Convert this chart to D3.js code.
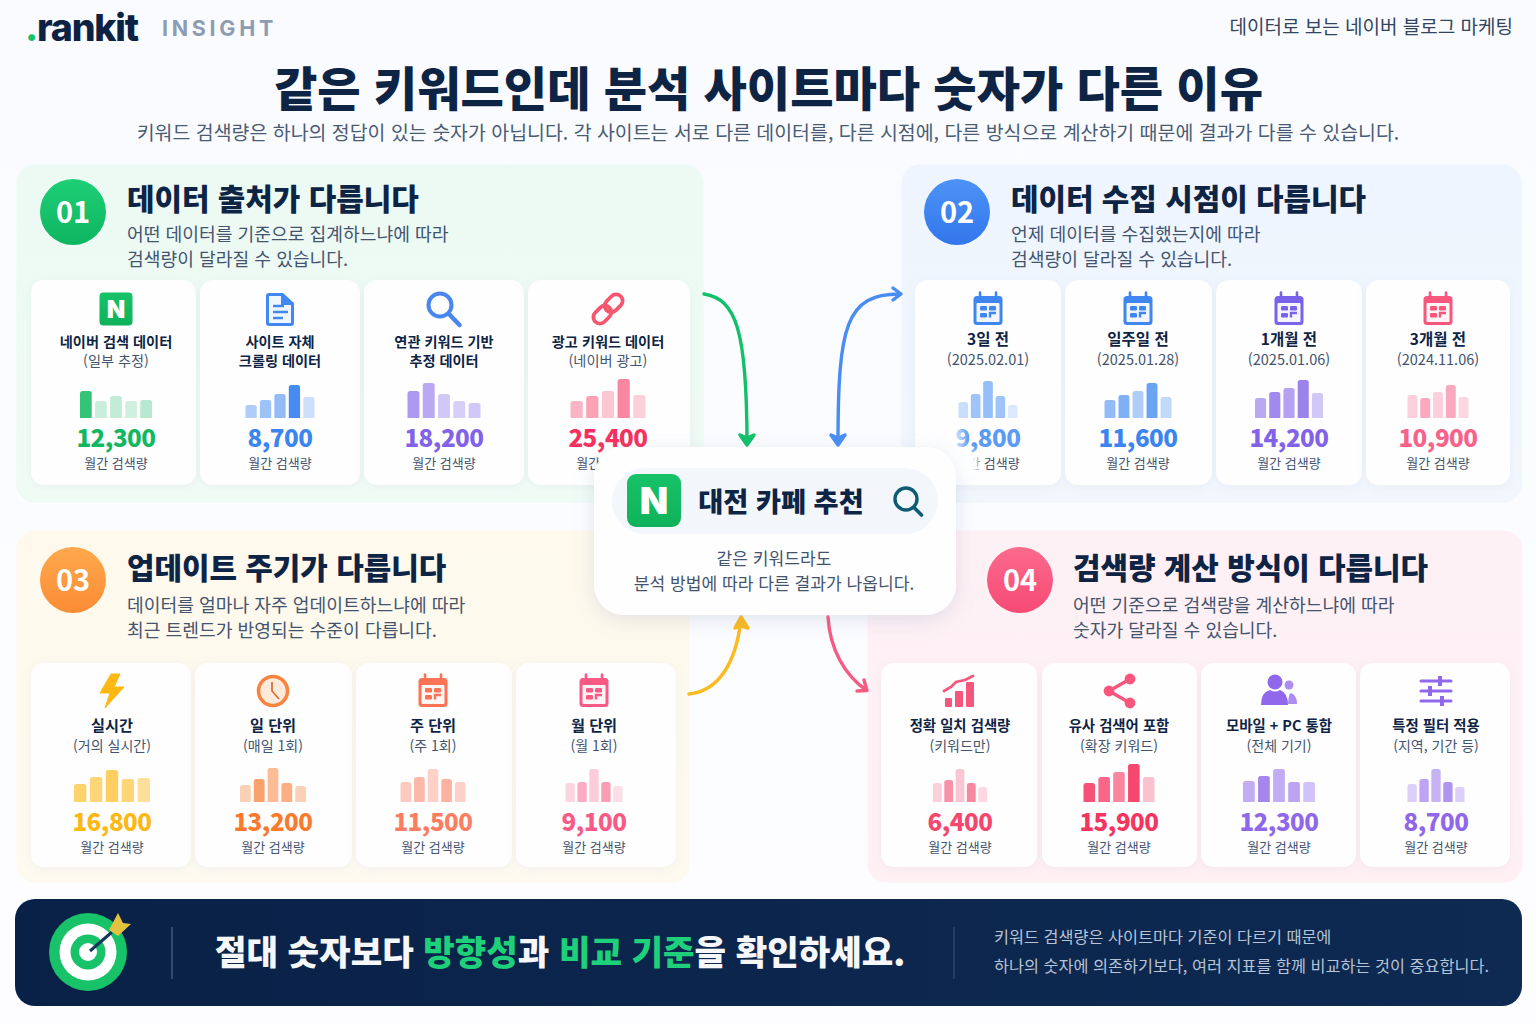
<!DOCTYPE html>
<html lang="ko">
<head>
<meta charset="utf-8">
<title>같은 키워드인데 분석 사이트마다 숫자가 다른 이유</title>
<script src="https://cdn.jsdelivr.net/npm/d3@7"></script>
<style>
  html, body { margin: 0; padding: 0; background: #fbfcfe; }
  svg { display: block; }
  text { font-family: "Noto Sans CJK KR", "Noto Sans", sans-serif; }
</style>
</head>
<body>
<div id="chart"></div>
<script>
// ---- data ----
const sectionNumbers = ["01", "02", "03", "04"];
const sectionTitles = ["데이터 출처가 다릅니다", "데이터 수집 시점이 다릅니다", "업데이트 주기가 다릅니다", "검색량 계산 방식이 다릅니다"];
const sectionNotes = [
  ["어떤 데이터를 기준으로 집계하느냐에 따라", "검색량이 달라질 수 있습니다."],
  ["언제 데이터를 수집했는지에 따라", "검색량이 달라질 수 있습니다."],
  ["데이터를 얼마나 자주 업데이트하느냐에 따라", "최근 트렌드가 반영되는 수준이 다릅니다."],
  ["어떤 기준으로 검색량을 계산하느냐에 따라", "숫자가 달라질 수 있습니다."]
];
const cardTitles = [
  ["네이버 검색 데이터", "사이트 자체", "연관 키워드 기반", "광고 키워드 데이터"],
  ["3일 전", "일주일 전", "1개월 전", "3개월 전"],
  ["실시간", "일 단위", "주 단위", "월 단위"],
  ["정확 일치 검색량", "유사 검색어 포함", "모바일 + PC 통합", "특정 필터 적용"]
];
const cardSubtitles = [
  ["(일부 추정)", "크롤링 데이터", "추정 데이터", "(네이버 광고)"],
  ["(2025.02.01)", "(2025.01.28)", "(2025.01.06)", "(2024.11.06)"],
  ["(거의 실시간)", "(매일 1회)", "(주 1회)", "(월 1회)"],
  ["(키워드만)", "(확장 키워드)", "(전체 기기)", "(지역, 기간 등)"]
];
const volumes = [
  [12300, 8700, 18200, 25400],
  [9800, 11600, 14200, 10900],
  [16800, 13200, 11500, 9100],
  [6400, 15900, 12300, 8700]
];
const miniBars = [
  [[27, 17, 22, 17, 18], [13, 18, 24, 33, 21], [27, 35, 24, 17, 15], [17, 22, 27, 39, 23]],
  [[16, 24, 37, 22, 13], [18, 23, 27, 35, 21], [20, 26, 30, 38, 25], [23, 20, 26, 33, 21]],
  [[18, 25, 32, 23, 24], [17, 23, 34, 19, 16], [20, 25, 33, 23, 20], [19, 20, 33, 20, 16]],
  [[19, 22, 33, 19, 15], [19, 25, 30, 38, 25], [21, 26, 33, 20, 20], [18, 23, 33, 20, 15]]
];
const volumeCaption = "월간 검색량";
const cardIcons = [
  ["naver", "doc", "search", "link"],
  ["calendar", "calendar", "calendar", "calendar"],
  ["bolt", "clock", "calendar", "calendar"],
  ["chart", "share", "users", "sliders"]
];

// ---- styles and layout ----
const NAVY = "#0e2445", GREY = "#43546e";
const panelFills = [["#ecfaf3", "#f1fbf6"], ["#eef5fe", "#f2f7fe"], ["#fef9ec", "#fefaf0"], ["#fef1f5", "#fff0f4"]];
const badgeFills = [["#1dcf76", "#0fb560"], ["#4d93f5", "#3276ec"], ["#ffa84d", "#fb8c34"], ["#fb6a8c", "#f64a75"]];
const cardColors = [
  ["#12b85f", "#3b85f0", "#8263e8", "#f7305e"],
  ["#5b9bf5", "#3b85f0", "#8263e8", "#f8628a"],
  ["#fdb813", "#f97a2e", "#fb7e62", "#f85a85"],
  ["#f5476e", "#f5345f", "#8f68ea", "#8f68ea"]
];
const iconColors = [
  ["#12b85f", "#4189f1", "#4a86ee", "#f7566f"],
  ["#3f86f0", "#3f86f0", "#7a62ea", "#f8567c"],
  ["#fdb813", "#f9843f", "#fb7257", "#f85a85"],
  ["#f7567c", "#f8567c", "#9068ec", "#9068ec"]
];
const barColors = [
  ["#12b85f", "#3b85f0", "#8263e8", "#f7466e"],
  ["#4f94f3", "#3b85f0", "#8263e8", "#f8628a"],
  ["#fdbb1c", "#f97a2e", "#fb7e62", "#f85a85"],
  ["#f5476e", "#f5345f", "#8f68ea", "#8f68ea"]
];
const barAlpha = [
  [[.85, .22, .25, .2, .3], [.4, .5, .55, .95, .25], [.65, .55, .35, .3, .35], [.4, .5, .3, .65, .25]],
  [[.3, .55, .6, .55, .2], [.55, .65, .4, .75, .3], [.55, .75, .6, .8, .35], [.3, .55, .3, .55, .25]],
  [[.65, .6, .7, .6, .45], [.35, .7, .5, .6, .35], [.4, .55, .35, .6, .35], [.25, .5, .3, .6, .2]],
  [[.25, .6, .3, .65, .2], [.85, .75, .6, .9, .3], [.55, .8, .55, .6, .4], [.3, .6, .5, .7, .3]]
];
const panels = [
  {x: 17, y: 165, w: 686, h: 337, badgeX: 73, textX: 127},
  {x: 902, y: 165, w: 619, h: 337, badgeX: 957, textX: 1011},
  {x: 17, y: 531, w: 672, h: 351, badgeX: 73, textX: 127},
  {x: 868, y: 531, w: 654, h: 351, badgeX: 1020, textX: 1073}
];
const cardEdges = [
  [[31, 196], [200, 360], [364, 524], [528, 690]],
  [[915, 1061], [1065, 1212], [1216, 1362], [1366, 1510]],
  [[31, 191], [195, 352], [356, 512], [516, 676]],
  [[881, 1037], [1042, 1197], [1201, 1356], [1360, 1510]]
];
const textCentres = [[116, 280, 444, 608], [988, 1138, 1289, 1438], [112, 273, 433, 594], [960, 1119, 1279, 1436]];
const barSpans = [[72, 69, 73, 75], [59, 67, 68, 61], [76, 66, 65, 57], [54, 71, 72, 57]];
const rows = [
  {top: 280, bottom: 485, icon: 309, title: 342, sub: 361, base: 418, value: 438, foot: 463, titleSize: 14.2, subSize: 14.2},
  {top: 280, bottom: 485, icon: 309, title: 340, sub: 360, base: 418, value: 438, foot: 463, titleSize: 15.5, subSize: 14.5},
  {top: 663, bottom: 867, icon: 691, title: 725.5, sub: 745.5, base: 802, value: 822, foot: 847, titleSize: 15.2, subSize: 14},
  {top: 663, bottom: 867, icon: 691, title: 725.5, sub: 745.5, base: 802, value: 822, foot: 847, titleSize: 14.4, subSize: 14}
];

const svg = d3.select("#chart").append("svg").attr("width", 1536).attr("height", 1024).attr("viewBox", "0 0 1536 1024");
const defs = svg.append("defs");

function vGradient(id, a, b, horizontal) {
  const gr = defs.append("linearGradient").attr("id", id)
    .attr("x1", 0).attr("y1", 0).attr("x2", horizontal ? 1 : 0).attr("y2", horizontal ? 0 : 1);
  gr.append("stop").attr("offset", "0%").attr("stop-color", a);
  gr.append("stop").attr("offset", "100%").attr("stop-color", b);
}
function shadow(id, dy, blur, colour, op) {
  const f = defs.append("filter").attr("id", id).attr("x", "-20%").attr("y", "-20%").attr("width", "140%").attr("height", "150%");
  f.append("feDropShadow").attr("dx", 0).attr("dy", dy).attr("stdDeviation", blur).attr("flood-color", colour).attr("flood-opacity", op);
}
shadow("cardShadow", 2, 5, "#8aa0bd", 0.10);
shadow("centreShadow", 5, 10, "#6f86a8", 0.20);
defs.append("filter").attr("id", "soften").attr("x", "-50%").attr("y", "-50%").attr("width", "200%").attr("height", "200%")
  .append("feGaussianBlur").attr("stdDeviation", 3);
vGradient("naverFill", "#17c268", "#0fb25a");
vGradient("bannerFill", "#0a2147", "#0e2a52", true);
vGradient("pageFill", "#f9fbfe", "#fdfdff");
panelFills.forEach((c, i) => vGradient("panel" + i, c[0], c[1]));
badgeFills.forEach((c, i) => vGradient("badge" + i, c[0], c[1]));

svg.append("rect").attr("width", 1536).attr("height", 1024).attr("fill", "url(#pageFill)");

// ---- header ----
const logo = svg.append("text").attr("x", 25).attr("y", 41).attr("font-size", 37.5).attr("font-weight", 800)
  .style("font-family", "Inter").attr("letter-spacing", -1.2).attr("fill", "#0c2244");
logo.append("tspan").attr("fill", "#17c268").text(".");
logo.append("tspan").text("rankit");
svg.append("text").attr("x", 162).attr("y", 36).attr("font-size", 21.5).attr("font-weight", 700)
  .style("font-family", "Inter").attr("letter-spacing", 3.7).attr("fill", "#8e9cb2").text("INSIGHT");
svg.append("text").attr("x", 1513).attr("y", 34).attr("text-anchor", "end").attr("font-size", 19)
  .attr("fill", "#33445f").text("데이터로 보는 네이버 블로그 마케팅");
svg.append("text").attr("x", 768.5).attr("y", 105.5).attr("text-anchor", "middle").attr("font-size", 47.1).attr("font-weight", 900)
  .attr("fill", NAVY).text("같은 키워드인데 분석 사이트마다 숫자가 다른 이유");
svg.append("text").attr("x", 768).attr("y", 140).attr("text-anchor", "middle").attr("font-size", 19.45)
  .attr("fill", "#4a5b74").text("키워드 검색량은 하나의 정답이 있는 숫자가 아닙니다. 각 사이트는 서로 다른 데이터를, 다른 시점에, 다른 방식으로 계산하기 때문에 결과가 다를 수 있습니다.");

// ---- icons ----
function drawIcon(g, kind, colour) {
  if (kind === "naver") {
    g.append("rect").attr("x", -16.5).attr("y", -16.5).attr("width", 33).attr("height", 33).attr("rx", 4).attr("fill", "url(#naverFill)");
    g.append("text").attr("text-anchor", "middle").attr("y", 8.5).attr("font-size", 24).attr("font-weight", 900)
      .style("font-family", "Inter").attr("fill", "#fff").text("N");
  } else if (kind === "doc") {
    g.append("path").attr("d", "M-14,-13 q0,-3 3,-3 h14 l11,10 v20 q0,3 -3,3 h-22 q-3,0 -3,-3 z").attr("fill", colour);
    g.append("path").attr("d", "M-11,-13 h12 v9 h10 v18 h-22 z").attr("fill", "#fff").attr("opacity", 0.92);
    g.append("path").attr("d", "M-7,-3 h11 M-7,3 h15 M-7,9 h10").attr("stroke", colour).attr("stroke-width", 2.4).attr("fill", "none");
  } else if (kind === "search") {
    g.append("circle").attr("cx", -4).attr("cy", -4).attr("r", 11.5).attr("fill", "none").attr("stroke", colour).attr("stroke-width", 4);
    g.append("line").attr("x1", 5).attr("y1", 5).attr("x2", 15.5).attr("y2", 16).attr("stroke", colour).attr("stroke-width", 4.5).attr("stroke-linecap", "round");
  } else if (kind === "link") {
    const r = g.append("g").attr("transform", "rotate(-45)");
    r.append("rect").attr("x", -18).attr("y", -6.5).attr("width", 20).attr("height", 13).attr("rx", 6.5).attr("fill", "none").attr("stroke", colour).attr("stroke-width", 3.8);
    r.append("rect").attr("x", -2).attr("y", -6.5).attr("width", 20).attr("height", 13).attr("rx", 6.5).attr("fill", "none").attr("stroke", colour).attr("stroke-width", 3.8);
  } else if (kind === "calendar") {
    g.append("rect").attr("x", -14.5).attr("y", -13).attr("width", 29).attr("height", 29).attr("rx", 3.5).attr("fill", colour);
    g.append("path").attr("d", "M-8,-13 v-3.5 M8,-13 v-3.5").attr("stroke", colour).attr("stroke-width", 2.6).attr("stroke-linecap", "round");
    g.append("rect").attr("x", -11.5).attr("y", -6).attr("width", 23).attr("height", 19).attr("rx", 1).attr("fill", "#fff").attr("opacity", 0.93);
    const cells = [[-8, -3], [1, -3], [-8, 4]];
    cells.forEach(c => g.append("rect").attr("x", c[0]).attr("y", c[1]).attr("width", 7).attr("height", 4.5).attr("rx", 1.2).attr("fill", colour));
    g.append("path").attr("d", "M2,8.5 v-4.5 h6").attr("stroke", colour).attr("stroke-width", 2.4).attr("fill", "none");
  } else if (kind === "bolt") {
    g.append("path").attr("d", "M-1,-17 L-12,2 H-2 L-7,17 L12,-4 H2 L8,-17 Z").attr("fill", colour).attr("stroke", colour).attr("stroke-linejoin", "round");
  } else if (kind === "clock") {
    g.append("circle").attr("r", 14.5).attr("fill", "#fdeadb").attr("stroke", colour).attr("stroke-width", 3.6);
    g.append("path").attr("d", "M-1,-9 V0 L6,8").attr("fill", "none").attr("stroke", "#d9703a").attr("stroke-width", 1.8);
  } else if (kind === "chart") {
    [[-15, 5, 7, 9], [-5, -2, 8, 16], [6, -11, 8, 25]].forEach(b =>
      g.append("rect").attr("x", b[0]).attr("y", b[1] + 2).attr("width", b[2]).attr("height", b[3]).attr("rx", 1).attr("fill", colour));
    g.append("path").attr("d", "M-16,0 L-9,-4 L-4,-9 L5,-11 L13,-15").attr("fill", "none").attr("stroke", colour).attr("stroke-width", 2.8).attr("stroke-linecap", "round");
  } else if (kind === "share") {
    g.append("path").attr("d", "M11,-12 L-10,0 L11,12").attr("fill", "none").attr("stroke", colour).attr("stroke-width", 3.4);
    [[11, -12], [-10, 0], [11, 12]].forEach(p => g.append("circle").attr("cx", p[0]).attr("cy", p[1]).attr("r", 5.4).attr("fill", colour));
  } else if (kind === "users") {
    g.append("circle").attr("cx", 10).attr("cy", -6).attr("r", 4.5).attr("fill", colour).attr("opacity", 0.75);
    g.append("path").attr("d", "M9,13 h9 q0,-10 -7,-11 q-2,5 -2,11 z").attr("fill", colour).attr("opacity", 0.75);
    g.append("circle").attr("cx", -4).attr("cy", -9).attr("r", 7.5).attr("fill", colour);
    g.append("path").attr("d", "M-18,14 q0,-13 9,-15 q5,3 10,0 q8,3 8,15 z").attr("fill", colour);
  } else if (kind === "sliders") {
    g.append("path").attr("d", "M-15,-10 H15 M-15,0 H15 M-15,10 H15").attr("stroke", colour).attr("stroke-width", 3).attr("stroke-linecap", "round");
    [[4, -10], [-6, 0], [6, 10]].forEach(k =>
      g.append("rect").attr("x", k[0] - 2).attr("y", k[1] - 5).attr("width", 4).attr("height", 10).attr("fill", colour));
  }
}

function topRoundedBar(x, y, w, base) {
  const r = Math.min(2.5, w / 2);
  return `M${x},${base} V${y + r} Q${x},${y} ${x + r},${y} H${x + w - r} Q${x + w},${y} ${x + w},${y + r} V${base} Z`;
}

// ---- panels and cards ----
panels.forEach((p, s) => {
  const g = svg.append("g");
  const row = rows[s];
  g.append("rect").attr("x", p.x).attr("y", p.y).attr("width", p.w).attr("height", p.h).attr("rx", 18)
    .attr("fill", `url(#panel${s})`).attr("stroke", panelFills[s][0]).attr("stroke-width", 1);

  const badgeY = p.y + (s < 2 ? 47 : 49);
  g.append("circle").attr("cx", p.badgeX).attr("cy", badgeY).attr("r", 33).attr("fill", `url(#badge${s})`);
  g.append("text").attr("x", p.badgeX).attr("y", badgeY + 10.5).attr("text-anchor", "middle").attr("font-size", 29)
    .attr("font-weight", 700).attr("fill", "#fff").text(sectionNumbers[s]);
  g.append("text").attr("x", p.textX).attr("y", p.y + (s < 2 ? 44.5 : 47.5)).attr("font-size", 29.9).attr("font-weight", 800)
    .attr("fill", NAVY).text(sectionTitles[s]);
  sectionNotes[s].forEach((line, k) => {
    g.append("text").attr("x", p.textX).attr("y", p.y + (s < 2 ? 76 : 81) + k * 24.5).attr("font-size", 18.2)
      .attr("fill", GREY).text(line);
  });

  cardTitles[s].forEach((title, c) => {
    const [x0, x1] = cardEdges[s][c];
    const cx = textCentres[s][c];
    const card = g.append("g");
    card.append("rect").attr("x", x0).attr("y", row.top).attr("width", x1 - x0).attr("height", row.bottom - row.top)
      .attr("rx", 13).attr("fill", "#fefeff").attr("filter", "url(#cardShadow)");
    drawIcon(card.append("g").attr("transform", `translate(${cx},${row.icon})`), cardIcons[s][c], iconColors[s][c]);
    card.append("text").attr("x", cx).attr("y", row.title + 5).attr("text-anchor", "middle").attr("font-size", row.titleSize)
      .attr("font-weight", 600).attr("fill", NAVY).text(title);
    // two-line site titles set the second line in the same weight
    const boldSub = s === 0 && (c === 1 || c === 2);
    card.append("text").attr("x", cx).attr("y", row.sub + 5).attr("text-anchor", "middle").attr("font-size", row.subSize)
      .attr("font-weight", boldSub ? 600 : 400).attr("fill", boldSub ? NAVY : GREY).text(cardSubtitles[s][c]);

    const values = miniBars[s][c];
    const half = barSpans[s][c] / 2;
    const xBar = d3.scaleBand().domain(d3.range(values.length)).range([cx - half, cx + half]).paddingInner(0.22);
    const yBar = d3.scaleLinear().domain([0, 40]).range([row.base, row.base - 40]);
    card.append("g").selectAll("path").data(values).join("path")
      .attr("d", (d, i) => topRoundedBar(xBar(i), yBar(d), xBar.bandwidth(), yBar(0)))
      .attr("fill", barColors[s][c])
      .attr("fill-opacity", (d, i) => barAlpha[s][c][i]);

    card.append("text").attr("x", cx).attr("y", row.value + 8.5).attr("text-anchor", "middle").attr("font-size", 24.2)
      .attr("font-weight", 800).attr("letter-spacing", -0.5).attr("fill", cardColors[s][c])
      .text(d3.format(",")(volumes[s][c]));
    card.append("text").attr("x", cx).attr("y", row.foot + 5).attr("text-anchor", "middle").attr("font-size", 13)
      .attr("fill", GREY).text(volumeCaption);
  });
});

// ---- arrows ----
const arrows = svg.append("g").attr("fill", "none").attr("stroke-width", 3.4).attr("stroke-linecap", "round").attr("stroke-linejoin", "round");
arrows.append("path").attr("stroke", "#12c069").attr("d", "M704,294 C736,299 747,330 747,444");
arrows.append("path").attr("stroke", "#12c069").attr("fill", "#12c069").attr("d", "M740,435 L747,445 L754,435 L747,438 Z");
arrows.append("path").attr("stroke", "#4a8df2").attr("d", "M838,444 C838,325 846,294 900,294");
arrows.append("path").attr("stroke", "#4a8df2").attr("fill", "#4a8df2").attr("d", "M831,435 L838,445 L845,435 L838,438 Z");
arrows.append("path").attr("stroke", "#4a8df2").attr("d", "M893,288 L901,294 L893,300");
arrows.append("path").attr("stroke", "#fbbb1f").attr("d", "M689,694 C718,691 736,664 741,619");
arrows.append("path").attr("stroke", "#fbbb1f").attr("fill", "#fbbb1f").attr("d", "M735,628 L741,617 L748,628 L741,626 Z");
arrows.append("path").attr("stroke", "#f85a82").attr("d", "M828,617 C830,650 845,675 866,690");
arrows.append("path").attr("stroke", "#f85a82").attr("d", "M857,691 L867,690.5 L864,680");

// ---- centre card ----
const centre = svg.append("g");
// white haze the card leaves over the text beside its right edge
centre.append("rect").attr("x", 948).attr("y", 428).attr("width", 16).attr("height", 22).attr("fill", "#fff").attr("opacity", 0.6).attr("filter", "url(#soften)");
centre.append("rect").attr("x", 948).attr("y", 452).attr("width", 30).attr("height", 24).attr("fill", "#fff").attr("filter", "url(#soften)");
centre.append("rect").attr("x", 594).attr("y", 447).attr("width", 362).attr("height", 168).attr("rx", 30)
  .attr("fill", "#fefeff").attr("filter", "url(#centreShadow)");
centre.append("rect").attr("x", 612).attr("y", 468).attr("width", 326).attr("height", 66).attr("rx", 33).attr("fill", "#f3f7fc");
centre.append("rect").attr("x", 627).attr("y", 474).attr("width", 54).attr("height", 53).attr("rx", 9).attr("fill", "url(#naverFill)");
centre.append("text").attr("x", 654).attr("y", 514).attr("text-anchor", "middle").attr("font-size", 37).attr("font-weight", 900)
  .style("font-family", "Inter").attr("fill", "#fff").text("N");
centre.append("text").attr("x", 781).attr("y", 511.5).attr("text-anchor", "middle").attr("font-size", 27.2).attr("font-weight", 800)
  .attr("fill", NAVY).text("대전 카페 추천");
centre.append("circle").attr("cx", 906).attr("cy", 499).attr("r", 11).attr("fill", "none").attr("stroke", "#0e5c73").attr("stroke-width", 3.4);
centre.append("line").attr("x1", 914).attr("y1", 507.5).attr("x2", 921.5).attr("y2", 515).attr("stroke", "#0e5c73").attr("stroke-width", 3.6).attr("stroke-linecap", "round");
centre.append("text").attr("x", 774).attr("y", 565).attr("text-anchor", "middle").attr("font-size", 17.1).attr("fill", GREY).text("같은 키워드라도");
centre.append("text").attr("x", 774).attr("y", 590).attr("text-anchor", "middle").attr("font-size", 17.1).attr("fill", GREY).text("분석 방법에 따라 다른 결과가 나옵니다.");

// ---- bottom banner ----
const banner = svg.append("g");
banner.append("rect").attr("x", 15).attr("y", 899).attr("width", 1507).attr("height", 107).attr("rx", 20).attr("fill", "url(#bannerFill)");
[[39, "#17c268"], [28.5, "#fff"], [17.5, "#17c268"], [9, "#fff"]].forEach(r =>
  banner.append("circle").attr("cx", 88).attr("cy", 952).attr("r", r[0]).attr("fill", r[1]));
banner.append("line").attr("x1", 90).attr("y1", 951).attr("x2", 112).attr("y2", 932).attr("stroke", "#15375f").attr("stroke-width", 3);
banner.append("path").attr("d", "M109,930 L118,913 L123,923 L131,924 L118,936 Z").attr("fill", "#e3c23f");
banner.append("line").attr("x1", 172).attr("y1", 927).attr("x2", 172).attr("y2", 979).attr("stroke", "#5c7090").attr("stroke-width", 1);
banner.append("line").attr("x1", 954).attr("y1", 927).attr("x2", 954).attr("y2", 979).attr("stroke", "#3e5475").attr("stroke-width", 1);
const slogan = banner.append("text").attr("x", 215).attr("y", 965).attr("font-size", 34.25).attr("font-weight", 800).attr("fill", "#f5f7fb");
[["절대 숫자보다 ", 0], ["방향성", 1], ["과 ", 0], ["비교 기준", 1], ["을 확인하세요.", 0]].forEach(part => {
  slogan.append("tspan").attr("fill", part[1] ? "#1fd07a" : "#f5f7fb").text(part[0]);
});
banner.append("text").attr("x", 994).attr("y", 943).attr("font-size", 16.3).attr("fill", "#b7c3d6").text("키워드 검색량은 사이트마다 기준이 다르기 때문에");
banner.append("text").attr("x", 994).attr("y", 972).attr("font-size", 16.3).attr("fill", "#b7c3d6").text("하나의 숫자에 의존하기보다, 여러 지표를 함께 비교하는 것이 중요합니다.");
</script>
</body>
</html>
